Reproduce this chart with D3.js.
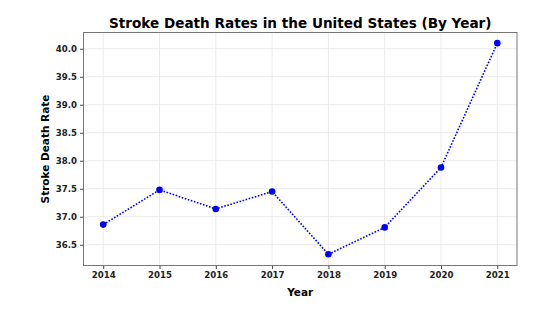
<!DOCTYPE html>
<html>
<head>
<meta charset="UTF-8">
<script src="https://d3js.org/d3.v7.min.js"></script>
<style>
  body { margin: 0; background: #fff; font-family: "DejaVu Sans", sans-serif; }
</style>
</head>
<body>
<svg id="chart" width="543" height="319"></svg>
<script>
// data
const years = [2014, 2015, 2016, 2017, 2018, 2019, 2020, 2021];
const rates = [36.86, 37.48, 37.14, 37.45, 36.33, 36.81, 37.88, 40.1];
const yTicks = [36.5, 37.0, 37.5, 38.0, 38.5, 39.0, 39.5, 40.0];

const data = years.map((y, i) => ({ year: y, value: rates[i] }));

const margin = { top: 32.5, right: 26, bottom: 53.5, left: 83.5 };
const width = 543, height = 319;
const svg = d3.select("#chart");

const x = d3.scaleLinear().domain([2013.65, 2021.35]).range([margin.left, width - margin.right]);
const y = d3.scaleLinear().domain([36.13, 40.29]).range([height - margin.bottom, margin.top]);

// grid
svg.append("g").selectAll("line").data(years).enter().append("line")
  .attr("x1", d => x(d)).attr("x2", d => x(d))
  .attr("y1", margin.top).attr("y2", height - margin.bottom)
  .attr("stroke", "#e6e6e6").attr("stroke-width", 0.8);
svg.append("g").selectAll("line").data(yTicks).enter().append("line")
  .attr("y1", d => y(d)).attr("y2", d => y(d))
  .attr("x1", margin.left).attr("x2", width - margin.right)
  .attr("stroke", "#e6e6e6").attr("stroke-width", 0.8);

// axes
const xAxis = svg.append("g")
  .attr("transform", `translate(0,${height - margin.bottom})`)
  .call(d3.axisBottom(x).tickValues(years).tickFormat(d3.format("d")).tickSize(3.5).tickPadding(3));
const yAxis = svg.append("g")
  .attr("transform", `translate(${margin.left},0)`)
  .call(d3.axisLeft(y).tickValues(yTicks).tickFormat(d3.format(".1f")).tickSize(3.5).tickPadding(3));
[xAxis, yAxis].forEach(a => {
  a.select(".domain").remove();
  a.selectAll(".tick line").attr("stroke", "#444");
  a.selectAll(".tick text")
    .attr("fill", "#222")
    .style("font-family", "DejaVu Sans")
    .style("font-weight", "bold")
    .style("font-size", "8.6px");
});

// frame
svg.append("rect")
  .attr("x", margin.left).attr("y", margin.top)
  .attr("width", width - margin.left - margin.right)
  .attr("height", height - margin.top - margin.bottom)
  .attr("fill", "none").attr("stroke", "#777").attr("stroke-width", 1);

// line
const line = d3.line().x(d => x(d.year)).y(d => y(d.value));
svg.append("path").datum(data)
  .attr("d", line)
  .attr("fill", "none")
  .attr("stroke", "#0000ff")
  .attr("stroke-width", 1.6)
  .attr("stroke-dasharray", "1.6,1.6");

svg.append("g").selectAll("circle").data(data).enter().append("circle")
  .attr("cx", d => x(d.year)).attr("cy", d => y(d.value))
  .attr("r", 3.3).attr("fill", "#0000ff");

// labels
svg.append("text")
  .attr("x", (margin.left + width - margin.right) / 2).attr("y", 28)
  .attr("text-anchor", "middle")
  .style("font-family", "DejaVu Sans").style("font-weight", "bold").style("font-size", "13.6px")
  .text("Stroke Death Rates in the United States (By Year)");

svg.append("text")
  .attr("x", (margin.left + width - margin.right) / 2).attr("y", 296)
  .attr("text-anchor", "middle")
  .style("font-family", "DejaVu Sans").style("font-weight", "bold").style("font-size", "10.5px")
  .text("Year");

svg.append("text")
  .attr("transform", `translate(49,${(margin.top + height - margin.bottom) / 2}) rotate(-90)`)
  .attr("text-anchor", "middle")
  .style("font-family", "DejaVu Sans").style("font-weight", "bold").style("font-size", "10.5px")
  .text("Stroke Death Rate");
</script>
</body>
</html>
